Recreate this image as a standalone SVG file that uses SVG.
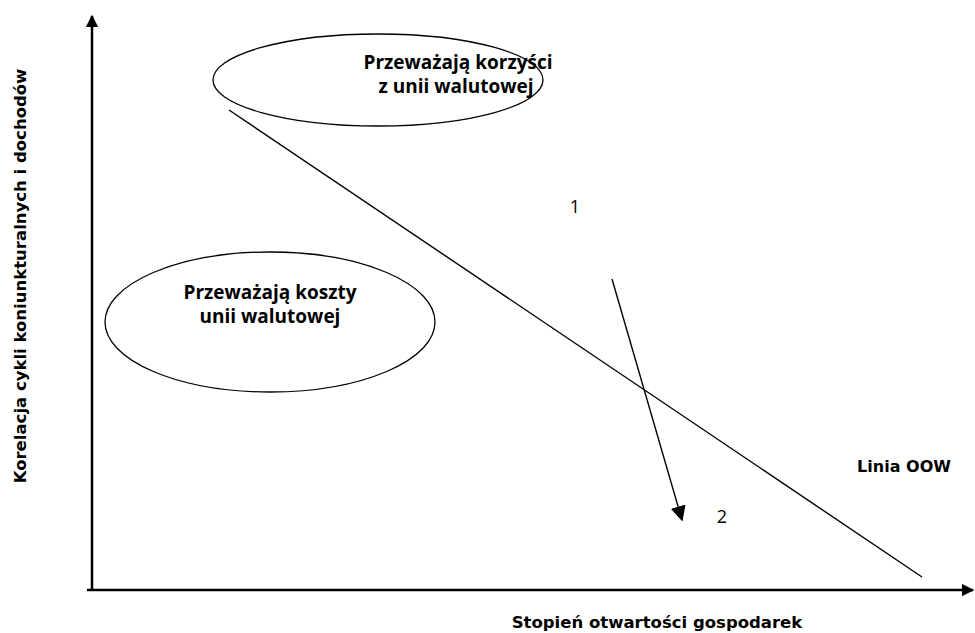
<svg xmlns="http://www.w3.org/2000/svg" width="975" height="633" viewBox="0 0 975 633">
  <style>
    .ax { stroke: #000; stroke-width: 2.5; fill: none; }
    .ln { stroke: #000; stroke-width: 1.4; fill: none; }
    .ell { stroke: #000; stroke-width: 1.3; fill: #fff; }
    .lbl { font-family: "DejaVu Sans", Verdana, sans-serif; font-weight: bold; fill: #000; text-anchor: middle; }
    .in { font-family: "Open Sans", "Liberation Sans", sans-serif; font-weight: bold; font-size: 19px; fill: #000; text-anchor: middle; }
    .num { font-family: "Open Sans", "Liberation Sans", sans-serif; font-size: 18px; fill: #000; text-anchor: middle; }
  </style>
  <defs>
    <marker id="axhead" viewBox="0 0 10 10" refX="9" refY="5" markerWidth="5" markerHeight="5" orient="auto" markerUnits="strokeWidth">
      <path d="M0,0 L10,5 L0,10 z" fill="#000"/>
    </marker>
    <marker id="head" viewBox="0 0 10 10" refX="9" refY="5" markerWidth="11" markerHeight="11" orient="auto" markerUnits="strokeWidth">
      <path d="M0,0 L10,5 L0,10 z" fill="#000"/>
    </marker>
  </defs>
  <rect width="975" height="633" fill="#fff"/>

  <!-- axes -->
  <g id="axes">
    <line class="ax" x1="92" y1="591" x2="92" y2="16" marker-end="url(#axhead)"/>
    <line class="ax" x1="87" y1="590" x2="973" y2="590" marker-end="url(#axhead)"/>
  </g>

  <!-- connectors: OOW line and shift arrow -->
  <g id="connectors">
    <line class="ln" x1="229" y1="110" x2="922" y2="577"/>
    <line class="ln" x1="612" y1="279" x2="682" y2="520" marker-end="url(#head)"/>
  </g>

  <g id="node-benefits">
    <ellipse class="ell" cx="378" cy="80" rx="165" ry="46"/>
    <text class="in" x="458" y="69">Przeważają korzyści</text>
    <text class="in" x="456" y="93">z unii walutowej</text>
  </g>

  <g id="node-costs">
    <ellipse class="ell" cx="270" cy="322" rx="165" ry="70"/>
    <text class="in" x="270" y="299">Przeważają koszty</text>
    <text class="in" x="270" y="323">unii walutowej</text>
  </g>

  <g id="labels">
    <text class="num" x="575" y="213">1</text>
    <text class="num" x="722" y="523">2</text>
    <text class="lbl" x="904" y="472" font-size="16">Linia OOW</text>
    <text class="lbl" x="657" y="628" font-size="16.5">Stopień otwartości gospodarek</text>
    <text class="lbl" x="0" y="0" font-size="16.5" transform="translate(26,276) rotate(-90)">Korelacja cykli koniunkturalnych i dochodów</text>
  </g>
</svg>
